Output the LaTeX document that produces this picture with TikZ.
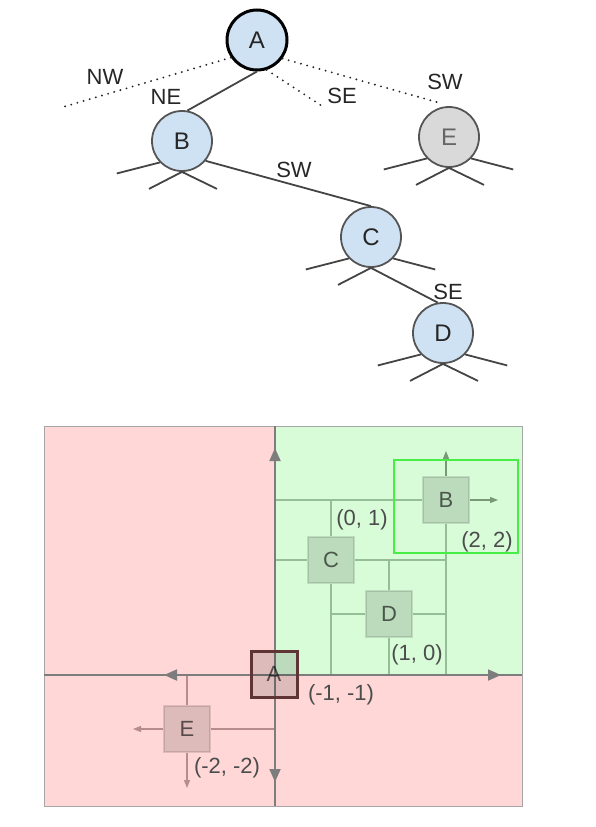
\documentclass[tikz,border=0pt]{standalone}
\usepackage{fontspec}
\setmainfont{Liberation Sans}
\usetikzlibrary{arrows.meta,positioning}
\definecolor{nodeblue}{RGB}{207,226,243}
\definecolor{nodegray}{RGB}{217,217,217}
\definecolor{rimgray}{RGB}{85,85,85}
\definecolor{txtgray}{RGB}{68,68,68}
\definecolor{quadred}{RGB}{255,215,215}
\definecolor{quadgreen}{RGB}{216,252,216}
\definecolor{axgray}{RGB}{125,125,125}
\definecolor{gridgreen}{RGB}{150,190,150}
\definecolor{gridred}{RGB}{185,140,140}
\definecolor{rootbrown}{RGB}{95,52,52}
\definecolor{hilite}{RGB}{70,238,70}
\tikzset{
  tnode/.style={circle, draw=rimgray, line width=1.8pt, fill=nodeblue, minimum size=60pt,
      inner sep=0pt, text=black!85, font=\fontsize{24}{24}\selectfont},
  root/.style={draw=black, line width=3pt},
  ghost/.style={fill=nodegray, text=black!60},
  tedge/.style={txtgray, line width=1.8pt},
  stub/.style={txtgray, line width=1.8pt},
  dotl/.style={black!85, line width=2.1pt, line cap=round, dash pattern=on 0pt off 6.4pt},
  elab/.style={text=black!85, font=\fontsize{22}{22}\selectfont, inner sep=0pt},
  qsq/.style={minimum size=46pt, inner sep=0pt, fill=black, fill opacity=0.13,
      draw=black, draw opacity=0.12, line width=1.2pt, text opacity=0.6,
      font=\fontsize{22}{22}\selectfont},
  qroot/.style={draw=rootbrown, draw opacity=1, line width=3pt},
  qlab/.style={text=black!70, font=\fontsize{22}{22}\selectfont, inner sep=0pt},
  axl/.style={axgray, line width=1.8pt},
  axa/.style={axgray, line width=1.8pt, -{Triangle[length=13pt, width=11pt]}},
  gln/.style={gridgreen, line width=1.2pt},
  rln/.style={gridred, line width=1.2pt},
  garr/.style={gridgreen!80!black, line width=1.2pt, -{Triangle[length=8pt, width=6pt]}},
  rarr/.style={gridred, line width=1.2pt, -{Triangle[length=8pt, width=6pt]}},
}
\begin{document}
\begin{tikzpicture}[x=1pt, y=-1pt]
 \useasboundingbox (0,0) rectangle (595,827);
 % tree
 \node[tnode, root] (A) at (257,40) {A};
 \node[tnode] (B) at (182,141) {B};
 \node[tnode] (C) at (371,237) {C};
 \node[tnode] (D) at (443,333) {D};
 \node[tnode, ghost] (E) at (449,137) {E};
 \coordinate (nw) at (63,107);
 \coordinate (se) at (322,106);
 \coordinate (sw) at (440,103);
 \draw[dotl] (A.-146) -- (nw);
 \draw[dotl] (A.-72) -- (se);
 \draw[dotl] (A.-36) -- (sw);
 \draw[tedge] (A.south) -- (B.80);
 \draw[tedge] (B.-40) -- (C.north);
 \draw[tedge] (C.south) -- (D.100);
 \node[elab] (lnw) at (105,77) {NW};
 \node[elab] (lne) at (166,97) {NE};
 \node[elab] (lse) at (342,96) {SE};
 \node[elab] (lsw) at (445,82) {SW};
 \node[elab] (lbc) at (294,170) {SW};
 \node[elab] (lcd) at (448,292) {SE};
 % child stubs
 \foreach \n in {B,C,D,E}{
   \draw[stub] (\n.-136) -- ++(-43,11);
   \draw[stub] (\n.south) -- ++(-33,17);
 }
 \foreach \n in {C,D,E}
   \draw[stub] (\n.-44) -- ++(42,11);
 \foreach \n in {B,D,E}
   \draw[stub] (\n.south) -- ++(35,17);
 % quadrants
 \fill[quadred] (44,426) rectangle (522,806);
 \fill[quadgreen] (275,426) rectangle (522,675);
 \draw[black!35, line width=1pt] (44,426) rectangle (522,806);
 \coordinate (qN) at (275,426);
 \coordinate (qS) at (275,806);
 \coordinate (qW) at (44,675);
 \coordinate (qE) at (522,675);
 \coordinate (o) at (275,675);
 \coordinate (aN) at (275,448);
 \coordinate (aS) at (275,782);
 \coordinate (aW) at (164,675);
 \coordinate (aE) at (501,675);
 % points
 \node[qsq] (qB) at (446,500) {B};
 \node[qsq] (qC) at (331,560) {C};
 \node[qsq] (qD) at (389,614) {D};
 \node[qsq] (qE2) at (187,729) {E};
 % splitting lines
 \draw[gln] (qB.west -| o) -- (qB.west);
 \draw[gln] (qB.south) -- (qB.south |- o);
 \draw[garr] (qB.east) -- (498,500);
 \draw[garr] (qB.north) -- (446,451);
 \draw[gln] (qC.west -| o) -- (qC.west);
 \draw[gln] (qC.east) -- (qC.east -| qB);
 \draw[gln] (qC.north) -- (qC.north |- qB);
 \draw[gln] (qC.south) -- (qC.south |- o);
 \draw[gln] (qD.west -| qC) -- (qD.west);
 \draw[gln] (qD.east) -- (qD.east -| qB);
 \draw[gln] (qD.north) -- (qD.north |- qC);
 \draw[gln] (qD.south) -- (qD.south |- o);
 \draw[rln] (qE2.north) -- (qE2.north |- o);
 \draw[rarr] (qE2.south) -- (187,788);
 \draw[rln] (qE2.east) -- (qE2.east -| o);
 \draw[rarr] (qE2.west) -- (133,729);
 % axes
 \draw[axl] (qN) -- (qS);
 \draw[axl] (qW) -- (qE);
 \draw[axa] (o) -- (aN);
 \draw[axa] (o) -- (aS);
 \draw[axa] (o) -- (aW);
 \draw[axa] (o) -- (aE);
 \node[qsq, qroot] (qA) at (274,674) {A};
 \draw[hilite, line width=2.8pt] (394,460) rectangle (518,553);
 % coordinates
 \node[qlab] (cB) at (487,542) {(2, 2)};
 \node[qlab] (cC) at (362,520) {(0, 1)};
 \node[qlab] (cD) at (417,655) {(1, 0)};
 \node[qlab] (cA) at (341,695) {(-1, -1)};
 \node[qlab] (cE) at (227,768) {(-2, -2)};
\end{tikzpicture}
\end{document}
